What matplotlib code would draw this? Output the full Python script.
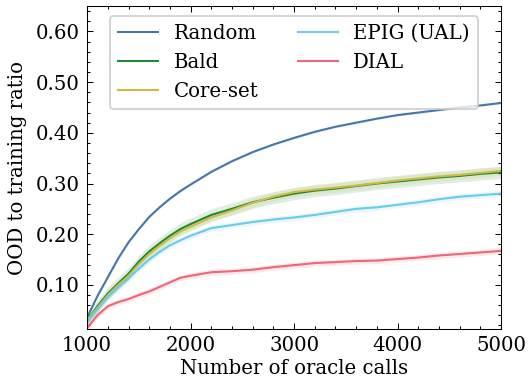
import matplotlib
matplotlib.use("Agg")
import matplotlib.pyplot as plt

# Style proche de SciencePlots
plt.rcParams['font.family'] = ['DejaVu Serif']
plt.rcParams['font.size'] = 9.5
plt.rcParams['axes.linewidth'] = 0.5
plt.rcParams['xtick.direction'] = 'in'
plt.rcParams['ytick.direction'] = 'in'
plt.rcParams['xtick.top'] = True
plt.rcParams['ytick.right'] = True
plt.rcParams['xtick.minor.visible'] = True
plt.rcParams['ytick.minor.visible'] = True
plt.rcParams['xtick.major.size'] = 3
plt.rcParams['ytick.major.size'] = 3
plt.rcParams['xtick.minor.size'] = 1.5
plt.rcParams['ytick.minor.size'] = 1.5
plt.rcParams['xtick.major.width'] = 0.5
plt.rcParams['ytick.major.width'] = 0.5
plt.rcParams['xtick.minor.width'] = 0.5
plt.rcParams['ytick.minor.width'] = 0.5

# Données
appels = [1000, 1100, 1200, 1300, 1400, 1500, 1600, 1700, 1800, 1900, 2000,
          2200, 2400, 2600, 2800, 3000, 3200, 3400, 3600, 3800, 4000,
          4200, 4400, 4600, 4800, 5000]

random_moy = [0.036, 0.078, 0.115, 0.152, 0.184, 0.210, 0.234, 0.253, 0.270, 0.285, 0.298,
              0.323, 0.344, 0.362, 0.377, 0.390, 0.402, 0.412, 0.420, 0.428, 0.435,
              0.440, 0.445, 0.450, 0.454, 0.459]
bald_moy = [0.030, 0.058, 0.083, 0.103, 0.122, 0.146, 0.166, 0.182, 0.197, 0.210, 0.220,
            0.238, 0.250, 0.263, 0.272, 0.280, 0.286, 0.290, 0.295, 0.300, 0.304,
            0.308, 0.312, 0.315, 0.319, 0.322]
coreset_moy = [0.030, 0.055, 0.080, 0.100, 0.118, 0.141, 0.161, 0.177, 0.192, 0.205, 0.215,
               0.233, 0.247, 0.262, 0.274, 0.283, 0.288, 0.292, 0.296, 0.301, 0.306,
               0.310, 0.314, 0.317, 0.321, 0.325]
epig_moy = [0.026, 0.052, 0.076, 0.095, 0.113, 0.132, 0.150, 0.165, 0.178, 0.188, 0.197,
            0.212, 0.218, 0.224, 0.229, 0.233, 0.238, 0.244, 0.250, 0.253, 0.258,
            0.263, 0.269, 0.274, 0.277, 0.280]
dial_moy = [0.015, 0.040, 0.058, 0.066, 0.072, 0.080, 0.087, 0.096, 0.105, 0.114, 0.118,
            0.125, 0.127, 0.130, 0.135, 0.139, 0.143, 0.145, 0.147, 0.148, 0.151,
            0.154, 0.158, 0.161, 0.164, 0.167]

# Ecarts-types (bandes)
random_std = 0.002
bald_std = 0.012
coreset_std = 0.009
epig_std = 0.006
dial_std = 0.006

noms = ['Random', 'Bald', 'Core-set', 'EPIG (UAL)', 'DIAL']
couleurs = ['#4477AA', '#228833', '#CCBB44', '#66CCEE', '#EE6677']
moyennes = [random_moy, bald_moy, coreset_moy, epig_moy, dial_moy]
stds = [random_std, bald_std, coreset_std, epig_std, dial_std]

fig = plt.figure(figsize=(528 / 150, 381 / 150), dpi=150)
ax = fig.add_axes([0.165, 0.1365, 0.784, 0.8475])

for nom, couleur, moy, std in zip(noms, couleurs, moyennes, stds):
    bas = [m - std for m in moy]
    haut = [m + std for m in moy]
    ax.fill_between(appels, bas, haut, color=couleur, alpha=0.14, linewidth=0)
    ax.plot(appels, moy, color=couleur, linewidth=1.0, label=nom)

ax.set_xlim(1000, 5000)
ax.set_ylim(0.013, 0.65)
ax.set_yticks([0.1, 0.2, 0.3, 0.4, 0.5, 0.6])
ax.yaxis.set_major_formatter(matplotlib.ticker.FormatStrFormatter('%.2f'))
ax.xaxis.set_minor_locator(matplotlib.ticker.MultipleLocator(200))
ax.yaxis.set_minor_locator(matplotlib.ticker.MultipleLocator(0.02))

ax.set_xlabel('Number of oracle calls', labelpad=2)
ax.set_ylabel('OOD to training ratio')
ax.legend(loc='upper center', ncol=2)

fig.savefig('out.png', dpi=150)
